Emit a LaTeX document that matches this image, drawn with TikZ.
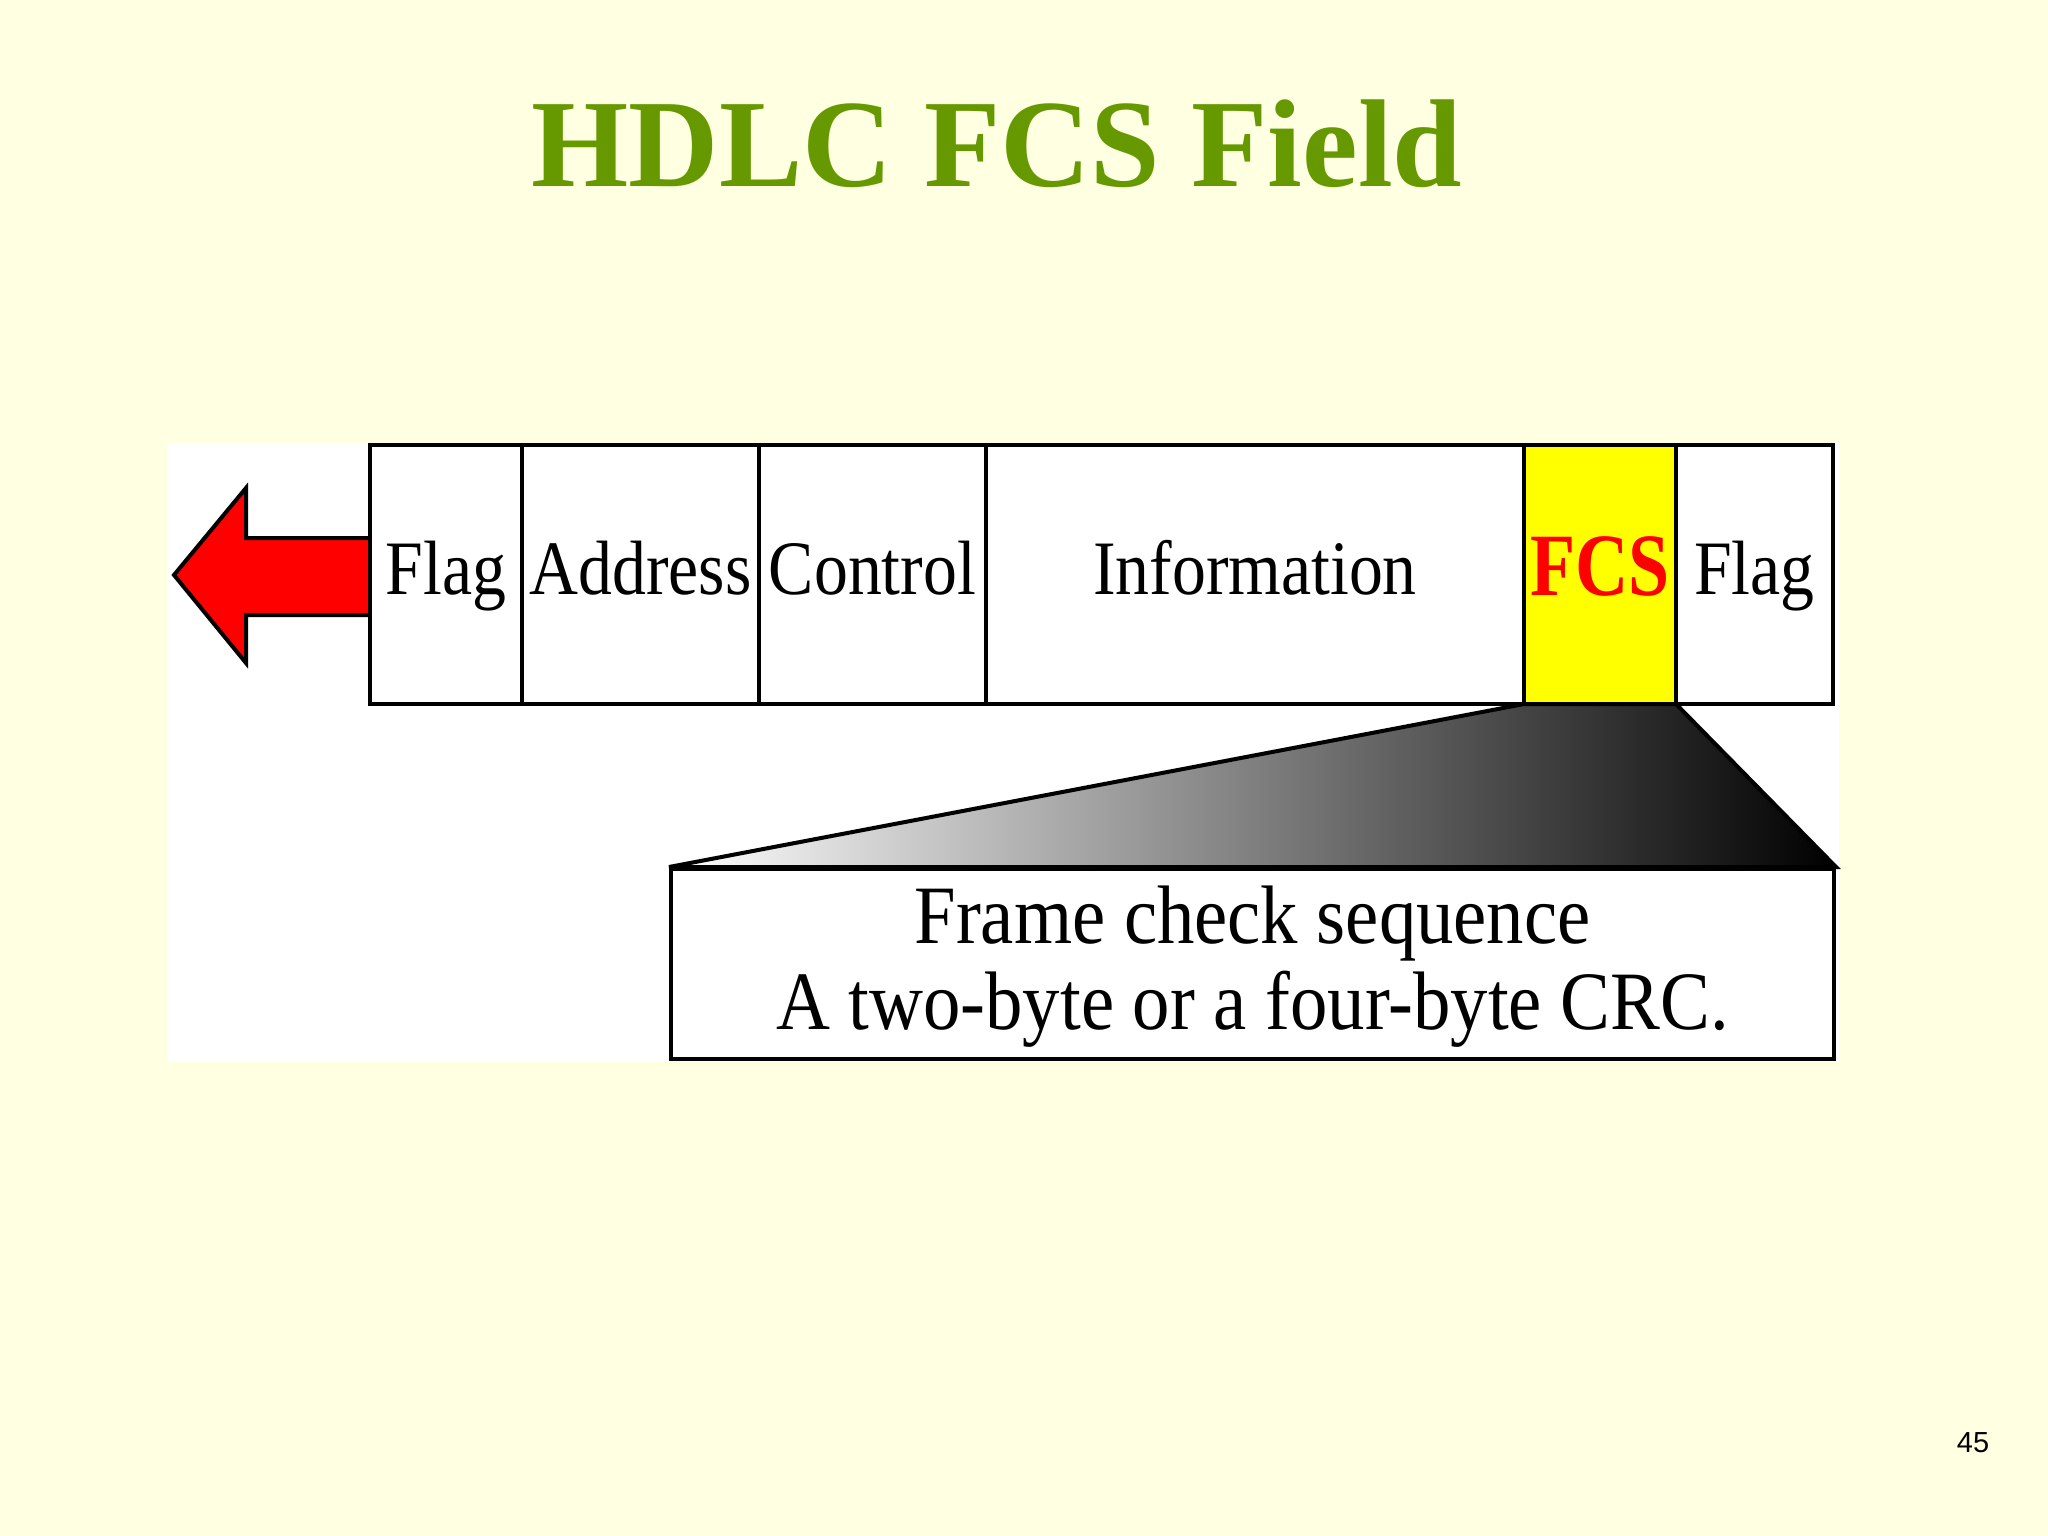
\documentclass[tikz,border=0pt]{standalone}
\usepackage{fontspec}
\setmainfont{Liberation Serif}
\newfontfamily\pagenumfont{Liberation Sans}
\definecolor{bgyellow}{RGB}{255,255,225}
\definecolor{titlegreen}{RGB}{102,153,0}
\definecolor{fcsyellow}{RGB}{255,255,0}
\definecolor{fcsred}{RGB}{255,0,0}
\begin{document}
\begin{tikzpicture}[x=1pt,y=-1pt,
  field/.style={draw=black, line width=4pt, fill=white, minimum height=259pt,
    inner sep=0pt, outer sep=0pt, text height=60pt, text depth=21pt,
    font=\fontsize{77}{80}\selectfont},
  bodytext/.style={anchor=base, inner sep=0pt, font=\fontsize{83}{86}\selectfont}]
\fill[bgyellow] (0,0) rectangle (2048,1536);
\useasboundingbox (0,0) rectangle (2048,1536);
\fill[white] (167,443) rectangle (1839,1062);
% title
\node[anchor=base, inner sep=0pt, text=titlegreen, font=\bfseries\fontsize{125}{130}\selectfont] (title) at (997,186) {HDLC FCS Field};
% arrow
\filldraw[fill=fcsred, draw=black, line width=4pt, line join=miter]
  (174,575) -- (246,488) -- (246,538) -- (372,538) -- (372,615) -- (246,615) -- (246,663) -- cycle;
% fields
\node[field, minimum width=152pt] (flag1) at (446,574.5) {\scalebox{0.88}[1]{Flag}};
\node[field, minimum width=237pt] (addr) at (640.5,574.5) {\scalebox{0.88}[1]{Address}};
\node[field, minimum width=227pt] (ctrl) at (872.5,574.5) {\scalebox{0.88}[1]{Control}};
\node[field, minimum width=538pt] (info) at (1255,574.5) {\scalebox{0.88}[1]{Information}};
\node[field, minimum width=152pt, fill=fcsyellow, text=fcsred, text height=66pt, text depth=25pt,
  font=\bfseries\fontsize{89}{92}\selectfont] (fcs) at (1600,574.5) {\scalebox{0.83}[1]{FCS}};
\node[field, minimum width=157pt] (flag2) at (1754.5,574.5) {\scalebox{0.88}[1]{Flag}};
% explanation box
\node[draw=black, line width=4pt, fill=white, minimum width=1163pt, minimum height=190pt, inner sep=0pt] (expl) at (1252.5,964) {};
\node[bodytext] (line1) at (1252.5,943) {\scalebox{0.9}[1]{Frame check sequence}};
\node[bodytext] (line2) at (1252.5,1029) {\scalebox{0.9}[1]{A two-byte or a four-byte CRC.}};
% expansion wedge
\shade[left color=white, right color=black]
  (fcs.south west) -- (expl.north west) -- (expl.north east) -- (fcs.south east) -- cycle;
\draw[line width=4pt, line join=miter]
  (fcs.south west) -- (expl.north west) -- (expl.north east) -- (fcs.south east) -- cycle;
% page number
\node[anchor=base, inner sep=0pt, font=\pagenumfont\fontsize{29}{30}\selectfont] (pnum) at (1973,1452) {45};
\end{tikzpicture}
\end{document}
